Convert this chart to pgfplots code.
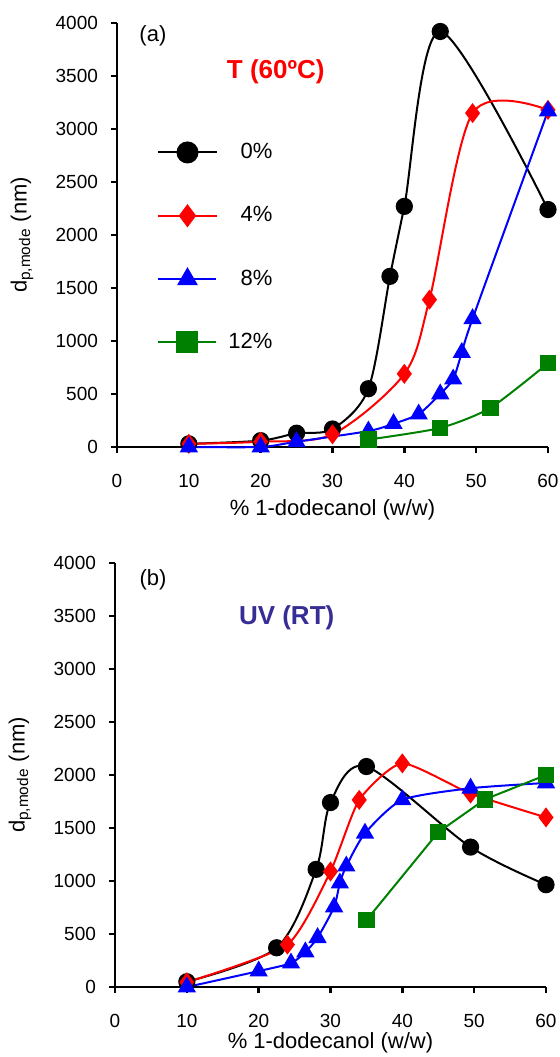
\documentclass[border=0pt]{standalone}
\usepackage{pgfplots}
\pgfplotsset{compat=1.18}
\usepackage{fontspec}
\setmainfont{Liberation Sans}

\definecolor{dgreen}{RGB}{0,128,0}
\definecolor{uvblue}{RGB}{55,45,150}

\pgfplotsset{
  panel/.style={
    scale only axis,
    width=215.5pt, height=212pt,
    axis lines=left,
    axis line style={-, line width=1.3pt},
    every tick/.style={black, line width=1.3pt},
    tick align=outside,
    major tick length=3pt,
    xmin=0, xmax=60, ymin=0, ymax=4000,
    xtick={0,10,...,60},
    ytick={0,500,...,4000},
    scaled y ticks=false,
    /pgf/number format/1000 sep={},
    /pgf/number format/assume math mode=true,
    tick label style={font=\fontsize{9.5}{11}\selectfont},
    xticklabel style={yshift=-7pt},
    yticklabel style={xshift=-3pt},
    label style={font=\fontsize{11}{13}\selectfont},
    xlabel={\% 1-dodecanol (w/w)},
    ylabel={d\textsubscript{p,mode} (nm)},
    x label style={at={(axis description cs:0.5,0)}, yshift=-31.5pt, anchor=center},
    y label style={at={(axis description cs:-0.2204,0.5)}, anchor=center},
    clip=false,
    every axis plot/.append style={line width=1pt},
    mark options={solid},
  },
}

\begin{document}
\begin{tikzpicture}
\useasboundingbox (-58.5pt,-305pt) rectangle (221.5pt,223.5pt);

% (a) thermal polymerisation
\begin{axis}[panel, at={(0pt,0pt)}, anchor=south west,
  legend cell align=right,
  legend style={draw=none, fill=none, at={(axis description cs:0.093,0.722)}, anchor=north west,
    font=\fontsize{11}{13}\selectfont, row sep=20.5pt, inner sep=0pt,
    nodes={inner sep=1pt},
    /tikz/every odd column/.append style={column sep=4.5pt}},
  legend image code/.code={
    \draw[mark repeat=2, mark phase=2, mark size=5pt] plot coordinates {(0pt,0pt) (14.5pt,0pt) (29pt,0pt)};
  },
]
\addplot[black, smooth, tension=0.5, mark=*, mark size=3.8pt] coordinates {
  (10,30) (20,60) (25,130) (30,170) (35,550) (38,1610) (40,2270) (45,3920) (60,2240)
};
\addplot[red, smooth, tension=0.5, mark=diamond*, mark size=4.2pt] coordinates {
  (10,30) (20,50) (30,120) (40,690) (43.5,1390) (49.5,3150) (60,3180)
};
\addplot[blue, smooth, tension=0.4, mark=triangle*, mark size=4.3pt] coordinates {
  (10,0) (20,0) (25,50) (35,150) (38.5,220) (42,310) (45,500) (46.8,640) (48,890) (49.5,1210) (60,3170)
};
\addplot[dgreen, smooth, tension=0.4, mark=square*, mark size=3.6pt] coordinates {
  (35,70) (45,180) (52,370) (60,790)
};
\legend{0\%, 4\%, 8\%, 12\%}
\node[font=\fontsize{11}{13}\selectfont] at (axis cs:5,3880) {(a)};
\node[font=\bfseries\fontsize{13}{15}\selectfont, text=red] at (axis cs:22.1,3540) {T (60ºC)};
\end{axis}

% (b) UV polymerisation
\begin{axis}[panel, at={(-1pt,-270pt)}, anchor=south west,
  x label style={yshift=3.5pt}]
\addplot[black, smooth, tension=0.5, mark=*, mark size=3.8pt] coordinates {
  (10,50) (22.5,370) (28,1110) (30,1740) (35,2080) (49.5,1320) (60,965)
};
\addplot[red, smooth, tension=0.35, mark=diamond*, mark size=4.2pt] coordinates {
  (10,45) (24,400) (30,1090) (34,1765) (40,2110) (49.5,1825) (60,1600)
};
\addplot[blue, smooth, tension=0.4, mark=triangle*, mark size=4.3pt] coordinates {
  (10,0) (20,150) (24.5,225) (26.5,330) (28.2,465) (30.5,755) (31.3,980) (32.2,1140) (34.8,1450) (40,1765) (49.5,1875) (60,1925)
};
\addplot[dgreen, mark=square*, mark size=3.6pt] coordinates {
  (35,630) (45,1460) (51.5,1770) (60,2000)
};
\node[font=\fontsize{11}{13}\selectfont] at (axis cs:5.3,3840) {(b)};
\node[font=\bfseries\fontsize{13}{15}\selectfont, text=uvblue] at (axis cs:23.9,3480) {UV (RT)};
\end{axis}
\end{tikzpicture}
\end{document}
